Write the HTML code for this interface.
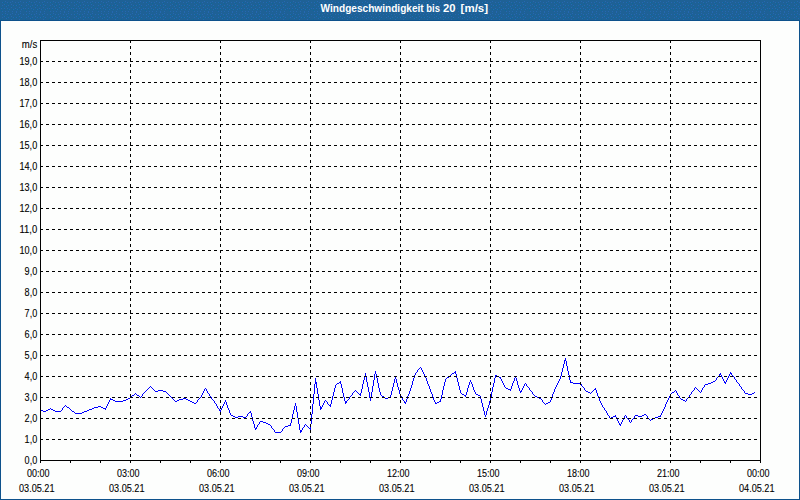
<!DOCTYPE html>
<html><head><meta charset="utf-8"><title>Windgeschwindigkeit bis 20 [m/s]</title>
<style>
html,body{margin:0;padding:0;}
body{width:800px;height:500px;overflow:hidden;background:#fdfefd;font-family:"Liberation Sans",sans-serif;position:relative;}
#hdr{position:absolute;left:0;top:0;width:800px;height:20px;background:#1e6196;}
#frame{position:absolute;left:0;top:20px;width:798px;height:478px;border:1px solid #0e528c;background:#fdfefd;}
svg{position:absolute;left:0;top:0;}
text{font-family:"Liberation Sans",sans-serif;}
</style></head><body>
<div id="hdr"></div>
<div id="frame"></div>
<svg width="800" height="500" viewBox="0 0 800 500">
<defs><pattern id="dz" x="0" y="0" width="24" height="12" patternUnits="userSpaceOnUse" shape-rendering="crispEdges"><path fill="#2568b2" d="M5 1h1v1h-1zM12 1h1v1h-1zM16 0h1v1h-1zM20 1h1v1h-1zM2 2h1v1h-1zM7 2h1v1h-1zM10 2h1v1h-1zM15 2h1v1h-1zM18 2h1v1h-1zM23 2h1v1h-1zM4 4h1v1h-1zM11 4h1v1h-1zM19 4h1v1h-1zM2 5h1v1h-1zM8 5h1v1h-1zM13 5h1v1h-1zM16 5h1v1h-1zM21 5h1v1h-1zM6 6h1v1h-1zM11 7h1v1h-1zM19 7h1v1h-1zM1 8h1v1h-1zM4 8h1v1h-1zM7 8h1v1h-1zM15 8h1v1h-1zM23 8h1v1h-1zM9 9h1v1h-1zM13 9h1v1h-1zM17 9h1v1h-1zM21 9h1v1h-1zM2 11h1v1h-1zM5 11h1v1h-1zM8 11h1v1h-1zM12 11h1v1h-1zM16 11h1v1h-1zM20 11h1v1h-1z"/><path fill="#0c6799" d="M3 2h1v1h-1zM8 3h1v1h-1zM19 3h1v1h-1zM5 4h1v1h-1zM14 5h1v1h-1zM17 5h1v1h-1zM7 6h1v1h-1zM11 6h1v1h-1zM21 6h1v1h-1zM1 7h1v1h-1zM4 9h1v1h-1zM8 9h1v1h-1zM12 9h1v1h-1zM15 9h1v1h-1zM18 9h1v1h-1zM22 9h1v1h-1zM1 10h1v1h-1z"/></pattern></defs>
<rect x="0" y="1" width="800" height="19" fill="url(#dz)"/>
<g font-size="10" font-weight="bold" fill="#ffffff">
<text x="320.6" y="12" textLength="103.1" lengthAdjust="spacingAndGlyphs">Windgeschwindigkeit</text>
<text x="426.3" y="12" textLength="13.7" lengthAdjust="spacingAndGlyphs">bis</text>
<text x="443.1" y="12" textLength="12.5" lengthAdjust="spacingAndGlyphs">20</text>
<text x="460.6" y="12" textLength="27.5" lengthAdjust="spacingAndGlyphs">[m/s]</text>
</g>
<path shape-rendering="crispEdges" fill="#0000ff" d="M40 410h1v1h-1zM41 410h1v1h-1zM42 410h1v1h-1zM43 411h1v1h-1zM44 411h1v1h-1zM45 411h1v1h-1zM46 410h1v1h-1zM47 410h1v1h-1zM48 409h1v1h-1zM49 409h1v1h-1zM50 408h1v1h-1zM51 409h1v1h-1zM52 409h1v1h-1zM53 410h1v1h-1zM54 410h1v1h-1zM55 411h1v1h-1zM56 411h1v1h-1zM57 411h1v1h-1zM58 411h1v1h-1zM59 411h1v1h-1zM60 411h1v1h-1zM61 410h1v1h-1zM62 408h1v2h-1zM63 407h1v1h-1zM64 406h1v1h-1zM65 405h1v1h-1zM66 406h1v1h-1zM67 407h1v1h-1zM68 407h1v1h-1zM69 408h1v1h-1zM70 409h1v1h-1zM71 410h1v1h-1zM72 411h1v1h-1zM73 411h1v1h-1zM74 412h1v1h-1zM75 413h1v1h-1zM76 413h1v1h-1zM77 413h1v1h-1zM78 413h1v1h-1zM79 413h1v1h-1zM80 413h1v1h-1zM81 413h1v1h-1zM82 412h1v1h-1zM83 412h1v1h-1zM84 411h1v1h-1zM85 411h1v1h-1zM86 411h1v1h-1zM87 410h1v1h-1zM88 410h1v1h-1zM89 409h1v1h-1zM90 409h1v1h-1zM91 409h1v1h-1zM92 408h1v1h-1zM93 408h1v1h-1zM94 407h1v1h-1zM95 407h1v1h-1zM96 407h1v1h-1zM97 407h1v1h-1zM98 406h1v1h-1zM99 406h1v1h-1zM100 406h1v1h-1zM101 407h1v1h-1zM102 407h1v1h-1zM103 408h1v1h-1zM104 408h1v1h-1zM105 408h1v2h-1zM106 406h1v2h-1zM107 404h1v2h-1zM108 402h1v2h-1zM109 400h1v2h-1zM110 398h1v2h-1zM111 399h1v1h-1zM112 399h1v1h-1zM113 400h1v1h-1zM114 400h1v1h-1zM115 401h1v1h-1zM116 401h1v1h-1zM117 401h1v1h-1zM118 401h1v1h-1zM119 401h1v1h-1zM120 401h1v1h-1zM121 401h1v1h-1zM122 401h1v1h-1zM123 400h1v1h-1zM124 400h1v1h-1zM125 400h1v1h-1zM126 399h1v1h-1zM127 399h1v1h-1zM128 398h1v1h-1zM129 398h1v1h-1zM130 397h1v1h-1zM131 396h1v1h-1zM132 395h1v1h-1zM133 395h1v1h-1zM134 394h1v1h-1zM135 393h1v1h-1zM136 394h1v1h-1zM137 395h1v1h-1zM138 395h1v1h-1zM139 396h1v1h-1zM140 397h1v1h-1zM141 396h1v1h-1zM142 394h1v2h-1zM143 393h1v1h-1zM144 392h1v1h-1zM145 391h1v1h-1zM146 390h1v1h-1zM147 389h1v1h-1zM148 388h1v1h-1zM149 387h1v1h-1zM150 386h1v1h-1zM151 387h1v1h-1zM152 388h1v1h-1zM153 389h1v1h-1zM154 390h1v1h-1zM155 391h1v1h-1zM156 391h1v1h-1zM157 391h1v1h-1zM158 390h1v1h-1zM159 390h1v1h-1zM160 390h1v1h-1zM161 390h1v1h-1zM162 390h1v1h-1zM163 391h1v1h-1zM164 391h1v1h-1zM165 391h1v1h-1zM166 392h1v1h-1zM167 393h1v1h-1zM168 394h1v1h-1zM169 395h1v1h-1zM170 396h1v1h-1zM171 397h1v1h-1zM172 398h1v1h-1zM173 399h1v1h-1zM174 400h1v1h-1zM175 401h1v1h-1zM176 401h1v1h-1zM177 400h1v1h-1zM178 400h1v1h-1zM179 399h1v1h-1zM180 399h1v1h-1zM181 399h1v1h-1zM182 399h1v1h-1zM183 398h1v1h-1zM184 398h1v1h-1zM185 398h1v1h-1zM186 399h1v1h-1zM187 399h1v1h-1zM188 400h1v1h-1zM189 400h1v1h-1zM190 401h1v1h-1zM191 401h1v1h-1zM192 402h1v1h-1zM193 402h1v1h-1zM194 403h1v1h-1zM195 403h1v1h-1zM196 402h1v1h-1zM197 400h1v2h-1zM198 399h1v1h-1zM199 398h1v1h-1zM200 397h1v1h-1zM201 395h1v2h-1zM202 393h1v2h-1zM203 391h1v2h-1zM204 389h1v2h-1zM205 388h1v1h-1zM206 389h1v2h-1zM207 391h1v2h-1zM208 393h1v1h-1zM209 394h1v2h-1zM210 396h1v1h-1zM211 397h1v2h-1zM212 399h1v1h-1zM213 400h1v1h-1zM214 401h1v2h-1zM215 403h1v1h-1zM216 404h1v2h-1zM217 406h1v2h-1zM218 408h1v1h-1zM219 409h1v2h-1zM220 410h1v2h-1zM221 408h1v2h-1zM222 406h1v2h-1zM223 404h1v2h-1zM224 402h1v2h-1zM225 400h1v2h-1zM226 402h1v3h-1zM227 405h1v3h-1zM228 408h1v2h-1zM229 410h1v3h-1zM230 413h1v2h-1zM231 415h1v1h-1zM232 415h1v1h-1zM233 416h1v1h-1zM234 416h1v1h-1zM235 417h1v1h-1zM236 417h1v1h-1zM237 417h1v1h-1zM238 416h1v1h-1zM239 416h1v1h-1zM240 416h1v1h-1zM241 416h1v1h-1zM242 416h1v1h-1zM243 417h1v1h-1zM244 417h1v1h-1zM245 417h1v1h-1zM246 416h1v1h-1zM247 414h1v2h-1zM248 413h1v1h-1zM249 412h1v1h-1zM250 411h1v2h-1zM251 413h1v4h-1zM252 417h1v4h-1zM253 421h1v3h-1zM254 424h1v4h-1zM255 428h1v2h-1zM256 427h1v2h-1zM257 425h1v2h-1zM258 424h1v1h-1zM259 422h1v2h-1zM260 421h1v1h-1zM261 421h1v1h-1zM262 421h1v1h-1zM263 422h1v1h-1zM264 422h1v1h-1zM265 422h1v1h-1zM266 423h1v1h-1zM267 423h1v1h-1zM268 424h1v1h-1zM269 424h1v1h-1zM270 425h1v1h-1zM271 426h1v2h-1zM272 428h1v1h-1zM273 429h1v1h-1zM274 430h1v2h-1zM275 432h1v1h-1zM276 432h1v1h-1zM277 432h1v1h-1zM278 432h1v1h-1zM279 432h1v1h-1zM280 432h1v1h-1zM281 431h1v1h-1zM282 429h1v2h-1zM283 428h1v1h-1zM284 427h1v1h-1zM285 426h1v1h-1zM286 426h1v1h-1zM287 426h1v1h-1zM288 425h1v1h-1zM289 425h1v1h-1zM290 423h1v3h-1zM291 419h1v4h-1zM292 414h1v5h-1zM293 410h1v4h-1zM294 406h1v4h-1zM295 403h1v3h-1zM296 406h1v6h-1zM297 412h1v6h-1zM298 418h1v6h-1zM299 424h1v6h-1zM300 430h1v3h-1zM301 430h1v2h-1zM302 428h1v2h-1zM303 427h1v1h-1zM304 425h1v2h-1zM305 424h1v1h-1zM306 425h1v1h-1zM307 426h1v1h-1zM308 427h1v1h-1zM309 428h1v1h-1zM310 424h1v6h-1zM311 414h1v10h-1zM312 404h1v10h-1zM313 394h1v10h-1zM314 384h1v10h-1zM315 378h1v6h-1zM316 382h1v6h-1zM317 388h1v6h-1zM318 394h1v6h-1zM319 400h1v6h-1zM320 406h1v4h-1zM321 407h1v2h-1zM322 405h1v2h-1zM323 403h1v2h-1zM324 401h1v2h-1zM325 400h1v1h-1zM326 401h1v1h-1zM327 402h1v2h-1zM328 404h1v1h-1zM329 405h1v1h-1zM330 404h1v3h-1zM331 400h1v4h-1zM332 396h1v4h-1zM333 392h1v4h-1zM334 388h1v4h-1zM335 385h1v3h-1zM336 384h1v1h-1zM337 383h1v1h-1zM338 383h1v1h-1zM339 382h1v1h-1zM340 381h1v3h-1zM341 384h1v4h-1zM342 388h1v5h-1zM343 393h1v4h-1zM344 397h1v4h-1zM345 401h1v3h-1zM346 401h1v2h-1zM347 400h1v1h-1zM348 399h1v1h-1zM349 397h1v2h-1zM350 396h1v1h-1zM351 395h1v1h-1zM352 393h1v2h-1zM353 392h1v1h-1zM354 391h1v1h-1zM355 390h1v1h-1zM356 391h1v1h-1zM357 392h1v1h-1zM358 393h1v1h-1zM359 394h1v1h-1zM360 393h1v3h-1zM361 389h1v4h-1zM362 384h1v5h-1zM363 380h1v4h-1zM364 376h1v4h-1zM365 373h1v3h-1zM366 376h1v6h-1zM367 382h1v5h-1zM368 387h1v5h-1zM369 392h1v6h-1zM370 398h1v3h-1zM371 392h1v6h-1zM372 386h1v6h-1zM373 380h1v6h-1zM374 374h1v6h-1zM375 371h1v3h-1zM376 374h1v4h-1zM377 378h1v5h-1zM378 383h1v5h-1zM379 388h1v4h-1zM380 392h1v3h-1zM381 395h1v1h-1zM382 396h1v1h-1zM383 396h1v1h-1zM384 397h1v1h-1zM385 398h1v1h-1zM386 398h1v1h-1zM387 398h1v1h-1zM388 397h1v1h-1zM389 397h1v1h-1zM390 395h1v3h-1zM391 391h1v4h-1zM392 387h1v4h-1zM393 383h1v4h-1zM394 379h1v4h-1zM395 377h1v2h-1zM396 379h1v4h-1zM397 383h1v4h-1zM398 387h1v3h-1zM399 390h1v4h-1zM400 394h1v2h-1zM401 396h1v2h-1zM402 398h1v2h-1zM403 400h1v1h-1zM404 401h1v2h-1zM405 402h1v2h-1zM406 399h1v3h-1zM407 396h1v3h-1zM408 394h1v2h-1zM409 391h1v3h-1zM410 388h1v3h-1zM411 385h1v3h-1zM412 381h1v4h-1zM413 378h1v3h-1zM414 375h1v3h-1zM415 373h1v2h-1zM416 372h1v1h-1zM417 370h1v2h-1zM418 369h1v1h-1zM419 368h1v1h-1zM420 367h1v1h-1zM421 368h1v2h-1zM422 370h1v2h-1zM423 372h1v2h-1zM424 374h1v2h-1zM425 376h1v2h-1zM426 378h1v3h-1zM427 381h1v3h-1zM428 384h1v2h-1zM429 386h1v3h-1zM430 389h1v3h-1zM431 392h1v2h-1zM432 394h1v3h-1zM433 397h1v3h-1zM434 400h1v2h-1zM435 402h1v2h-1zM436 403h1v1h-1zM437 402h1v1h-1zM438 402h1v1h-1zM439 401h1v1h-1zM440 399h1v3h-1zM441 395h1v4h-1zM442 390h1v5h-1zM443 386h1v4h-1zM444 382h1v4h-1zM445 379h1v3h-1zM446 378h1v1h-1zM447 377h1v1h-1zM448 377h1v1h-1zM449 376h1v1h-1zM450 375h1v1h-1zM451 374h1v1h-1zM452 373h1v1h-1zM453 373h1v1h-1zM454 372h1v1h-1zM455 371h1v3h-1zM456 374h1v4h-1zM457 378h1v4h-1zM458 382h1v4h-1zM459 386h1v4h-1zM460 390h1v3h-1zM461 393h1v1h-1zM462 394h1v1h-1zM463 394h1v1h-1zM464 395h1v1h-1zM465 395h1v2h-1zM466 392h1v3h-1zM467 388h1v4h-1zM468 385h1v3h-1zM469 382h1v3h-1zM470 380h1v2h-1zM471 382h1v2h-1zM472 384h1v3h-1zM473 387h1v3h-1zM474 390h1v2h-1zM475 392h1v2h-1zM476 394h1v1h-1zM477 394h1v1h-1zM478 395h1v1h-1zM479 395h1v1h-1zM480 396h1v3h-1zM481 399h1v4h-1zM482 403h1v4h-1zM483 407h1v4h-1zM484 411h1v4h-1zM485 415h1v2h-1zM486 411h1v4h-1zM487 408h1v3h-1zM488 405h1v3h-1zM489 401h1v4h-1zM490 397h1v4h-1zM491 392h1v5h-1zM492 387h1v5h-1zM493 383h1v4h-1zM494 378h1v5h-1zM495 375h1v3h-1zM496 375h1v1h-1zM497 376h1v1h-1zM498 376h1v1h-1zM499 377h1v1h-1zM500 377h1v2h-1zM501 379h1v2h-1zM502 381h1v2h-1zM503 383h1v2h-1zM504 385h1v2h-1zM505 387h1v1h-1zM506 388h1v1h-1zM507 388h1v1h-1zM508 389h1v1h-1zM509 389h1v1h-1zM510 389h1v2h-1zM511 386h1v3h-1zM512 383h1v3h-1zM513 381h1v2h-1zM514 378h1v3h-1zM515 376h1v2h-1zM516 378h1v3h-1zM517 381h1v4h-1zM518 385h1v3h-1zM519 388h1v3h-1zM520 391h1v2h-1zM521 390h1v2h-1zM522 388h1v2h-1zM523 386h1v2h-1zM524 384h1v2h-1zM525 383h1v1h-1zM526 384h1v2h-1zM527 386h1v1h-1zM528 387h1v1h-1zM529 388h1v2h-1zM530 390h1v1h-1zM531 391h1v1h-1zM532 392h1v2h-1zM533 394h1v1h-1zM534 395h1v1h-1zM535 396h1v1h-1zM536 396h1v1h-1zM537 397h1v1h-1zM538 397h1v1h-1zM539 398h1v1h-1zM540 398h1v1h-1zM541 399h1v1h-1zM542 400h1v2h-1zM543 402h1v1h-1zM544 403h1v1h-1zM545 404h1v1h-1zM546 403h1v1h-1zM547 403h1v1h-1zM548 402h1v1h-1zM549 402h1v1h-1zM550 400h1v2h-1zM551 397h1v3h-1zM552 394h1v3h-1zM553 392h1v2h-1zM554 389h1v3h-1zM555 387h1v2h-1zM556 385h1v2h-1zM557 383h1v2h-1zM558 381h1v2h-1zM559 379h1v2h-1zM560 376h1v3h-1zM561 372h1v4h-1zM562 368h1v4h-1zM563 364h1v4h-1zM564 360h1v4h-1zM565 358h1v3h-1zM566 361h1v5h-1zM567 366h1v5h-1zM568 371h1v4h-1zM569 375h1v5h-1zM570 380h1v3h-1zM571 382h1v1h-1zM572 382h1v1h-1zM573 383h1v1h-1zM574 383h1v1h-1zM575 383h1v1h-1zM576 383h1v1h-1zM577 383h1v1h-1zM578 383h1v1h-1zM579 383h1v1h-1zM580 383h1v1h-1zM581 384h1v2h-1zM582 386h1v1h-1zM583 387h1v1h-1zM584 388h1v2h-1zM585 390h1v1h-1zM586 391h1v1h-1zM587 391h1v1h-1zM588 392h1v1h-1zM589 392h1v1h-1zM590 393h1v1h-1zM591 392h1v1h-1zM592 391h1v1h-1zM593 390h1v1h-1zM594 389h1v1h-1zM595 388h1v2h-1zM596 390h1v3h-1zM597 393h1v3h-1zM598 396h1v2h-1zM599 398h1v3h-1zM600 401h1v2h-1zM601 403h1v2h-1zM602 405h1v2h-1zM603 407h1v1h-1zM604 408h1v2h-1zM605 410h1v1h-1zM606 411h1v2h-1zM607 413h1v2h-1zM608 415h1v1h-1zM609 416h1v2h-1zM610 418h1v1h-1zM611 417h1v1h-1zM612 417h1v1h-1zM613 416h1v1h-1zM614 416h1v1h-1zM615 415h1v2h-1zM616 417h1v2h-1zM617 419h1v2h-1zM618 421h1v2h-1zM619 423h1v2h-1zM620 424h1v2h-1zM621 422h1v2h-1zM622 420h1v2h-1zM623 418h1v2h-1zM624 416h1v2h-1zM625 415h1v1h-1zM626 416h1v2h-1zM627 418h1v1h-1zM628 419h1v1h-1zM629 420h1v2h-1zM630 422h1v1h-1zM631 420h1v2h-1zM632 419h1v1h-1zM633 418h1v1h-1zM634 416h1v2h-1zM635 415h1v1h-1zM636 415h1v1h-1zM637 415h1v1h-1zM638 416h1v1h-1zM639 416h1v1h-1zM640 416h1v1h-1zM641 416h1v1h-1zM642 415h1v1h-1zM643 415h1v1h-1zM644 414h1v1h-1zM645 414h1v1h-1zM646 415h1v1h-1zM647 416h1v2h-1zM648 418h1v1h-1zM649 419h1v1h-1zM650 420h1v1h-1zM651 419h1v1h-1zM652 419h1v1h-1zM653 418h1v1h-1zM654 418h1v1h-1zM655 417h1v1h-1zM656 417h1v1h-1zM657 417h1v1h-1zM658 416h1v1h-1zM659 416h1v1h-1zM660 415h1v2h-1zM661 413h1v2h-1zM662 411h1v2h-1zM663 409h1v2h-1zM664 407h1v2h-1zM665 404h1v3h-1zM666 402h1v2h-1zM667 400h1v2h-1zM668 398h1v2h-1zM669 396h1v2h-1zM670 394h1v2h-1zM671 393h1v1h-1zM672 392h1v1h-1zM673 392h1v1h-1zM674 391h1v1h-1zM675 390h1v1h-1zM676 391h1v2h-1zM677 393h1v2h-1zM678 395h1v1h-1zM679 396h1v2h-1zM680 398h1v1h-1zM681 399h1v1h-1zM682 399h1v1h-1zM683 400h1v1h-1zM684 400h1v1h-1zM685 401h1v1h-1zM686 399h1v2h-1zM687 398h1v1h-1zM688 397h1v1h-1zM689 395h1v2h-1zM690 394h1v1h-1zM691 392h1v2h-1zM692 391h1v1h-1zM693 390h1v1h-1zM694 388h1v2h-1zM695 387h1v1h-1zM696 388h1v1h-1zM697 389h1v1h-1zM698 390h1v1h-1zM699 391h1v1h-1zM700 392h1v1h-1zM701 390h1v2h-1zM702 388h1v2h-1zM703 387h1v1h-1zM704 385h1v2h-1zM705 384h1v1h-1zM706 384h1v1h-1zM707 384h1v1h-1zM708 383h1v1h-1zM709 383h1v1h-1zM710 383h1v1h-1zM711 382h1v1h-1zM712 382h1v1h-1zM713 381h1v1h-1zM714 381h1v1h-1zM715 380h1v1h-1zM716 378h1v2h-1zM717 377h1v1h-1zM718 376h1v1h-1zM719 374h1v2h-1zM720 373h1v2h-1zM721 375h1v2h-1zM722 377h1v2h-1zM723 379h1v2h-1zM724 381h1v2h-1zM725 382h1v2h-1zM726 380h1v2h-1zM727 378h1v2h-1zM728 376h1v2h-1zM729 374h1v2h-1zM730 372h1v2h-1zM731 373h1v2h-1zM732 375h1v1h-1zM733 376h1v1h-1zM734 377h1v2h-1zM735 379h1v1h-1zM736 380h1v2h-1zM737 382h1v1h-1zM738 383h1v1h-1zM739 384h1v2h-1zM740 386h1v1h-1zM741 387h1v2h-1zM742 389h1v1h-1zM743 390h1v1h-1zM744 391h1v2h-1zM745 393h1v1h-1zM746 393h1v1h-1zM747 393h1v1h-1zM748 394h1v1h-1zM749 394h1v1h-1zM750 394h1v1h-1zM751 394h1v1h-1zM752 393h1v1h-1zM753 393h1v1h-1zM754 392h1v1h-1z"/>
<g shape-rendering="crispEdges" stroke="#000" stroke-width="1" stroke-dasharray="3 3" fill="none">
<line x1="40" y1="439.5" x2="760" y2="439.5"/>
<line x1="40" y1="418.5" x2="760" y2="418.5"/>
<line x1="40" y1="397.5" x2="760" y2="397.5"/>
<line x1="40" y1="376.5" x2="760" y2="376.5"/>
<line x1="40" y1="355.5" x2="760" y2="355.5"/>
<line x1="40" y1="334.5" x2="760" y2="334.5"/>
<line x1="40" y1="313.5" x2="760" y2="313.5"/>
<line x1="40" y1="292.5" x2="760" y2="292.5"/>
<line x1="40" y1="271.5" x2="760" y2="271.5"/>
<line x1="40" y1="250.5" x2="760" y2="250.5"/>
<line x1="40" y1="229.5" x2="760" y2="229.5"/>
<line x1="40" y1="208.5" x2="760" y2="208.5"/>
<line x1="40" y1="187.5" x2="760" y2="187.5"/>
<line x1="40" y1="166.5" x2="760" y2="166.5"/>
<line x1="40" y1="145.5" x2="760" y2="145.5"/>
<line x1="40" y1="124.5" x2="760" y2="124.5"/>
<line x1="40" y1="103.5" x2="760" y2="103.5"/>
<line x1="40" y1="82.5" x2="760" y2="82.5"/>
<line x1="40" y1="61.5" x2="760" y2="61.5"/>
<line x1="130.5" y1="40" x2="130.5" y2="460"/>
<line x1="220.5" y1="40" x2="220.5" y2="460"/>
<line x1="310.5" y1="40" x2="310.5" y2="460"/>
<line x1="400.5" y1="40" x2="400.5" y2="460"/>
<line x1="490.5" y1="40" x2="490.5" y2="460"/>
<line x1="580.5" y1="40" x2="580.5" y2="460"/>
<line x1="670.5" y1="40" x2="670.5" y2="460"/>
</g>
<g shape-rendering="crispEdges" fill="#000">
<rect x="40" y="40" width="721" height="1"/>
<rect x="40" y="460" width="721" height="1"/>
<rect x="40" y="40" width="1" height="421"/>
<rect x="760" y="40" width="1" height="421"/>
<rect x="40" y="460" width="1" height="3"/>
<rect x="70" y="460" width="1" height="3"/>
<rect x="100" y="460" width="1" height="3"/>
<rect x="130" y="460" width="1" height="3"/>
<rect x="160" y="460" width="1" height="3"/>
<rect x="190" y="460" width="1" height="3"/>
<rect x="220" y="460" width="1" height="3"/>
<rect x="250" y="460" width="1" height="3"/>
<rect x="280" y="460" width="1" height="3"/>
<rect x="310" y="460" width="1" height="3"/>
<rect x="340" y="460" width="1" height="3"/>
<rect x="370" y="460" width="1" height="3"/>
<rect x="400" y="460" width="1" height="3"/>
<rect x="430" y="460" width="1" height="3"/>
<rect x="460" y="460" width="1" height="3"/>
<rect x="490" y="460" width="1" height="3"/>
<rect x="520" y="460" width="1" height="3"/>
<rect x="550" y="460" width="1" height="3"/>
<rect x="580" y="460" width="1" height="3"/>
<rect x="610" y="460" width="1" height="3"/>
<rect x="640" y="460" width="1" height="3"/>
<rect x="670" y="460" width="1" height="3"/>
<rect x="700" y="460" width="1" height="3"/>
<rect x="730" y="460" width="1" height="3"/>
<rect x="760" y="460" width="1" height="3"/>
</g>
<g font-size="10.1" fill="#000" stroke="#000" stroke-width="0.1">
<text x="24.6" y="464" textLength="12.6" lengthAdjust="spacingAndGlyphs">0,0</text>
<text x="24.6" y="443" textLength="12.6" lengthAdjust="spacingAndGlyphs">1,0</text>
<text x="24.6" y="422" textLength="12.6" lengthAdjust="spacingAndGlyphs">2,0</text>
<text x="24.6" y="401" textLength="12.6" lengthAdjust="spacingAndGlyphs">3,0</text>
<text x="24.6" y="380" textLength="12.6" lengthAdjust="spacingAndGlyphs">4,0</text>
<text x="24.6" y="359" textLength="12.6" lengthAdjust="spacingAndGlyphs">5,0</text>
<text x="24.6" y="338" textLength="12.6" lengthAdjust="spacingAndGlyphs">6,0</text>
<text x="24.6" y="317" textLength="12.6" lengthAdjust="spacingAndGlyphs">7,0</text>
<text x="24.6" y="296" textLength="12.6" lengthAdjust="spacingAndGlyphs">8,0</text>
<text x="24.6" y="275" textLength="12.6" lengthAdjust="spacingAndGlyphs">9,0</text>
<text x="19.5" y="254" textLength="17.7" lengthAdjust="spacingAndGlyphs">10,0</text>
<text x="19.5" y="233" textLength="17.7" lengthAdjust="spacingAndGlyphs">11,0</text>
<text x="19.5" y="212" textLength="17.7" lengthAdjust="spacingAndGlyphs">12,0</text>
<text x="19.5" y="191" textLength="17.7" lengthAdjust="spacingAndGlyphs">13,0</text>
<text x="19.5" y="170" textLength="17.7" lengthAdjust="spacingAndGlyphs">14,0</text>
<text x="19.5" y="149" textLength="17.7" lengthAdjust="spacingAndGlyphs">15,0</text>
<text x="19.5" y="128" textLength="17.7" lengthAdjust="spacingAndGlyphs">16,0</text>
<text x="19.5" y="107" textLength="17.7" lengthAdjust="spacingAndGlyphs">17,0</text>
<text x="19.5" y="86" textLength="17.7" lengthAdjust="spacingAndGlyphs">18,0</text>
<text x="19.5" y="65" textLength="17.7" lengthAdjust="spacingAndGlyphs">19,0</text>
<text x="21.8" y="48" textLength="15.4" lengthAdjust="spacingAndGlyphs">m/s</text>
<text x="27.1" y="477" textLength="22.5" lengthAdjust="spacingAndGlyphs">00:00</text>
<text x="19.0" y="492" textLength="35.5" lengthAdjust="spacingAndGlyphs">03.05.21</text>
<text x="117.1" y="477" textLength="22.5" lengthAdjust="spacingAndGlyphs">03:00</text>
<text x="109.0" y="492" textLength="35.5" lengthAdjust="spacingAndGlyphs">03.05.21</text>
<text x="207.1" y="477" textLength="22.5" lengthAdjust="spacingAndGlyphs">06:00</text>
<text x="199.0" y="492" textLength="35.5" lengthAdjust="spacingAndGlyphs">03.05.21</text>
<text x="297.1" y="477" textLength="22.5" lengthAdjust="spacingAndGlyphs">09:00</text>
<text x="289.0" y="492" textLength="35.5" lengthAdjust="spacingAndGlyphs">03.05.21</text>
<text x="387.1" y="477" textLength="22.5" lengthAdjust="spacingAndGlyphs">12:00</text>
<text x="379.0" y="492" textLength="35.5" lengthAdjust="spacingAndGlyphs">03.05.21</text>
<text x="477.1" y="477" textLength="22.5" lengthAdjust="spacingAndGlyphs">15:00</text>
<text x="469.0" y="492" textLength="35.5" lengthAdjust="spacingAndGlyphs">03.05.21</text>
<text x="567.1" y="477" textLength="22.5" lengthAdjust="spacingAndGlyphs">18:00</text>
<text x="559.0" y="492" textLength="35.5" lengthAdjust="spacingAndGlyphs">03.05.21</text>
<text x="657.1" y="477" textLength="22.5" lengthAdjust="spacingAndGlyphs">21:00</text>
<text x="649.0" y="492" textLength="35.5" lengthAdjust="spacingAndGlyphs">03.05.21</text>
<text x="747.1" y="477" textLength="22.5" lengthAdjust="spacingAndGlyphs">00:00</text>
<text x="739.0" y="492" textLength="35.5" lengthAdjust="spacingAndGlyphs">04.05.21</text>
</g>
</svg>
</body></html>
